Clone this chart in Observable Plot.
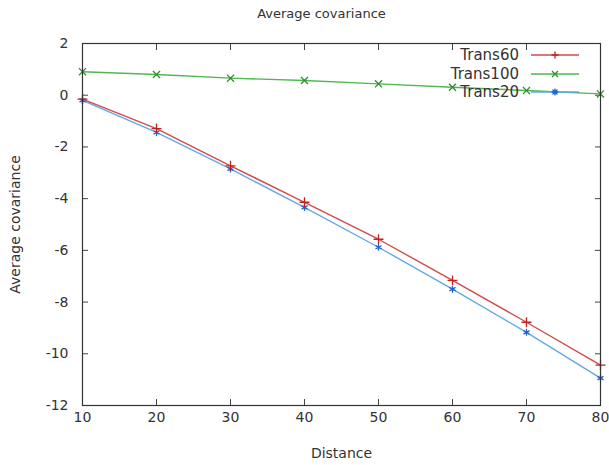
<!DOCTYPE html>
<html><head><meta charset="utf-8">
<script src="https://cdn.jsdelivr.net/npm/d3@7"></script>
<script src="https://cdn.jsdelivr.net/npm/@observablehq/plot@0.6"></script>
<style>
body{margin:0;background:#fff;font-family:"DejaVu Sans",sans-serif;color:#333;}
#wrap{position:relative;width:609px;height:465px;overflow:hidden;}
#title{height:28px;line-height:28px;text-align:center;font-size:13px;color:#333;padding-left:34px;box-sizing:border-box;}
#legend{position:absolute;right:30px;top:46px;font-size:15px;color:#333;}
#legend .row{display:flex;align-items:center;justify-content:flex-end;height:18.5px;}
#legend svg{margin-left:12px;}
</style></head>
<body>
<div id="wrap">
<div id="title">Average covariance</div>
<div id="chart"></div>
<div id="legend"></div>
</div>
<script>
const distances = [10, 20, 30, 40, 50, 60, 70, 80];
const trans60  = [-0.15, -1.29, -2.73, -4.14, -5.57, -7.16, -8.78, -10.44];
const trans100 = [0.91, 0.80, 0.66, 0.57, 0.44, 0.31, 0.18, 0.05];
const trans20  = [-0.20, -1.44, -2.85, -4.34, -5.88, -7.50, -9.17, -10.94];
const seriesNames = ["Trans60", "Trans100", "Trans20"];
const xTicks = [10, 20, 30, 40, 50, 60, 70, 80];
const yTicks = [2, 0, -2, -4, -6, -8, -10, -12];

const styles = {
  Trans60:  {line: "#d24a4a", mark: "#c42020", symbol: "plus"},
  Trans100: {line: "#4fb84f", mark: "#2e8f2e", symbol: "times"},
  Trans20:  {line: "#62a8e6", mark: "#1f66cc", symbol: "asterisk"}
};
const valuesBySeries = {Trans60: trans60, Trans100: trans100, Trans20: trans20};
const rows = seriesNames.flatMap(s => distances.map((d, i) => ({series: s, x: d, y: valuesBySeries[s][i]})));

const marks = [];
for (const s of ["Trans100", "Trans20", "Trans60"]) {
  const data = rows.filter(r => r.series === s);
  marks.push(Plot.line(data, {x: "x", y: "y", stroke: styles[s].line, strokeWidth: 1.4}));
  marks.push(Plot.dot(data, {x: "x", y: "y", symbol: styles[s].symbol, r: 3.3, stroke: styles[s].mark, strokeWidth: 1.3, fill: "none"}));
}

const fmt = d => String(d);
const chart = Plot.plot({
  width: 609,
  height: 437,
  marginLeft: 82,
  marginRight: 9,
  marginTop: 15,
  marginBottom: 60,
  style: {fontFamily: "DejaVu Sans, sans-serif", color: "#333", background: "#fff", overflow: "visible"},
  x: {domain: [10, 80]},
  y: {domain: [-12, 2]},
  marks: [
    Plot.axisX(xTicks, {anchor: "bottom", tickSize: -6, tickPadding: 13, tickFormat: fmt, fontSize: 14, stroke: "#444", label: "Distance", labelAnchor: "center", labelOffset: 52, labelArrow: "none"}),
    Plot.axisX(xTicks, {anchor: "top", tickSize: -6, tickFormat: () => "", stroke: "#444", label: null}),
    Plot.axisY(yTicks, {anchor: "left", tickSize: -6, tickPadding: 20, tickFormat: fmt, fontSize: 14, stroke: "#444", label: "Average covariance", labelAnchor: "center", labelOffset: 72, labelArrow: "none"}),
    Plot.axisY(yTicks, {anchor: "right", tickSize: -6, tickFormat: () => "", stroke: "#444", label: null}),
    ...marks,
    Plot.frame({stroke: "#333", strokeWidth: 1.2})
  ]
});
document.getElementById("chart").appendChild(chart);

// legend
const legend = document.getElementById("legend");
const symbolPaths = {
  plus: "M-3.5,0H3.5M0,-3.5V3.5",
  times: "M-3,-3L3,3M-3,3L3,-3",
  asterisk: "M-3.5,0H3.5M0,-3.5V3.5M-2.5,-2.5L2.5,2.5M-2.5,2.5L2.5,-2.5"
};
for (const s of seriesNames) {
  const row = document.createElement("div");
  row.className = "row";
  const span = document.createElement("span");
  span.textContent = s;
  row.appendChild(span);
  const ns = "http://www.w3.org/2000/svg";
  const svg = document.createElementNS(ns, "svg");
  svg.setAttribute("width", 48); svg.setAttribute("height", 12);
  const line = document.createElementNS(ns, "line");
  line.setAttribute("x1", 0); line.setAttribute("x2", 48); line.setAttribute("y1", 6); line.setAttribute("y2", 6);
  line.setAttribute("stroke", styles[s].line); line.setAttribute("stroke-width", 1.4);
  svg.appendChild(line);
  const p = document.createElementNS(ns, "path");
  p.setAttribute("d", symbolPaths[styles[s].symbol]);
  p.setAttribute("transform", "translate(24,6)");
  p.setAttribute("stroke", styles[s].mark); p.setAttribute("stroke-width", 1.3); p.setAttribute("fill", "none");
  svg.appendChild(p);
  row.appendChild(svg);
  legend.appendChild(row);
}
</script>
</body></html>
